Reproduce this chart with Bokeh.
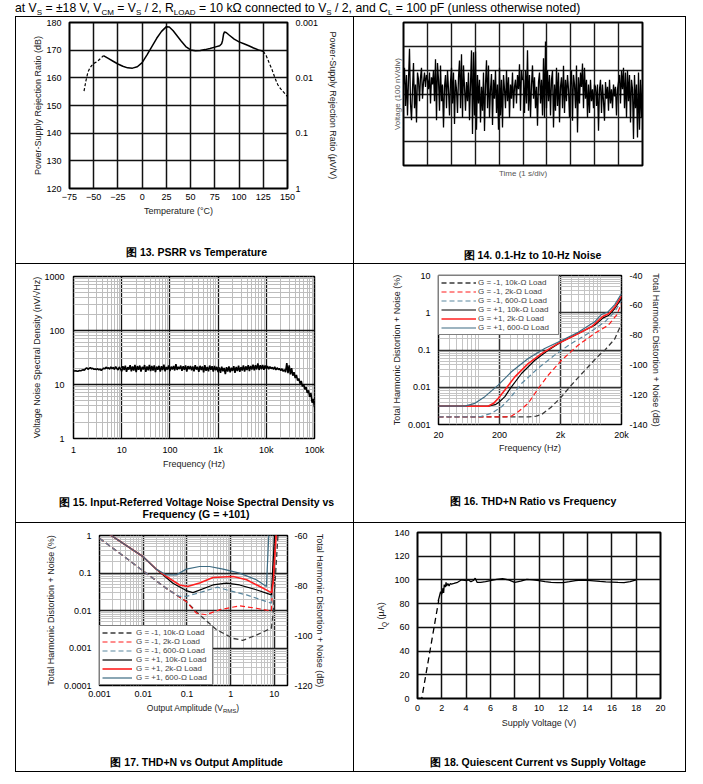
import numpy as np
from bokeh.plotting import figure
from bokeh.models import (Range1d, LinearAxis, FixedTicker, Legend, LegendItem, Div, LinearScale)
from bokeh.layouts import column, row
from bokeh.embed import file_html
from bokeh.resources import INLINE

FONT = "Liberation Sans"

# ---------------- data ----------------
# Fig 13 PSRR vs temperature
psrr_xticks = [-75, -50, -25, 0, 25, 50, 75, 100, 125, 150]
psrr_yticks = [120, 130, 140, 150, 160, 170, 180]
psrr_right_ticks = [120, 140, 160, 180]
psrr_right_labels = ["1", "0.1", "0.01", "0.001"]
psrr_dash_l_t = [-60, -58, -56, -54, -52, -49, -46, -43, -40]
psrr_dash_l_db = [155.2, 159, 162, 163.5, 164.5, 165.4, 166, 167, 168]
psrr_t = [-40, -35, -30, -25, -20, -15, -10, -5, 0, 5, 10, 15, 20, 25, 28, 32, 36, 40, 45, 50,
          55, 60, 65, 70, 75, 80, 82, 83, 84, 85, 87, 90, 95, 100, 105, 110, 115, 120, 125]
psrr_db = [168, 167, 166, 165, 164.2, 163.6, 163.5, 164, 165.5, 168.3, 171.3, 174.3, 176.8, 178.5, 178.4,
           177, 175.2, 173.4, 171.3, 170.1, 169.8, 169.9, 170.2, 170.6, 171.1, 171.6, 172.3, 173.5,
           175.8, 176.6, 176.3, 175.4, 174, 173, 172.3, 171.6, 170.8, 170.1, 169.6]
psrr_dash_r_t = [125, 128, 131, 134, 137, 140, 143, 146, 150]
psrr_dash_r_db = [169.6, 168, 165.5, 163, 160, 157.5, 156, 154.8, 153.2]

# Fig 14 0.1-Hz to 10-Hz noise (nV), 24 samples per second
noise_nv = [
    40, 110, -50, 80, -90, 60, 190, -40, -110, 20, 130, -60, 40, -120, 90, 60, -30, 70, 110, -20, 50, 90, 30, 80,
    60, 20, 90, -40, 70, 40, 100, -30, 146, -110, 130, 60, -70, 120, -30, 40, -140, 30, 80, -60, 100, 20, -90, 50,
    110, -40, 90, -126, 60, 20, -80, 70, 140, -60, 167, -100, 120, 30, -70, 50, -30, 90, -110, 40, 183, -168, 175, -90,
    178, -150, 80, -40, 60, -120, 30, -70, 90, -155, 40, 142, -60, 120, -100, 20, 84, -130, 60, -20, 100, -80, 40, -150,
    110, -90, 60, -140, 80, 20, -60, 100, -30, 70, -100, 40, -20, 90, -60, 30, 60, -40, 80, 20, 125, -70, 100, 60,
    60, -80, 100, -40, 184, -70, 80, -98, 40, 120, -20, 70, -60, 30, -133, 50, 90, -40, 60, -90, 150, -100, 220, -60,
    100, -30, 80, -90, 60, 97, -140, 40, -70, 110, -50, 90, -119, 30, 70, -60, 118, -80, 60, -30, 80, 20, -100, 50,
    100, -112, 80, 40, -60, 120, -161, 70, -40, 90, 30, 128, -60, 110, -20, 60, -100, 40, -80, 60, -30, 20, -60, 40,
    30, -50, 40, -154, 20, 60, -80, 40, -30, -112, 50, -20, 30, -70, 60, -40, 20, -60, 40, -10, 30, -90, 20, 50,
    80, -40, 97, 20, 110, -60, 90, -100, 100, -30, 80, -120, 60, 20, -189, 80, -60, 40, -182, 90, -150, 60, -100, 40,
]
noise_seconds = 10

# Fig 15 noise spectral density (nV/rtHz), 40 points per decade from 1 Hz to 100 kHz
nsd_values = [
    18.0, 17.8, 17.9, 17.6, 17.7, 18.2, 17.9, 18.4, 18.8, 18.3, 19.6, 20.4, 19.2, 19.8, 20.6, 19.5, 19.9, 19.1, 19.4, 18.9,
    19.6, 18.7, 19.3, 18.2, 19.0, 20.1, 19.4, 21.0, 19.8, 20.5, 19.2, 21.2, 19.6, 20.8, 18.9, 21.5, 19.7, 18.6, 21.1, 19.4,
    17.5, 21.8, 18.6, 22.3, 17.2, 21.0, 18.9, 22.8, 17.6, 21.5, 18.2, 23.0, 17.0, 21.9, 18.8, 22.4, 17.4, 21.2, 19.0, 22.9,
    17.1, 21.6, 18.4, 23.1, 17.8, 22.0, 18.1, 22.6, 16.9, 21.4, 18.7, 22.2, 17.3, 21.8, 18.5, 23.3, 17.6, 21.1, 18.9, 22.5,
    17.8, 21.4, 19.0, 22.1, 18.2, 23.8, 18.6, 21.2, 19.3, 22.4, 17.9, 21.7, 18.8, 22.6, 17.4, 21.9, 19.1, 22.0, 18.3, 21.5,
    17.6, 22.8, 18.9, 21.3, 17.2, 22.2, 18.6, 21.6, 16.8, 22.9, 18.0, 21.1, 17.5, 22.4, 18.7, 21.8, 17.3, 22.0, 18.4, 21.2,
    17.0, 20.8, 16.4, 21.4, 17.6, 20.2, 15.6, 20.9, 17.3, 21.6, 16.8, 20.5, 17.9, 21.9, 16.5, 21.2, 17.7, 22.3, 17.1, 21.0,
    18.2, 22.6, 17.4, 21.7, 18.5, 22.9, 17.8, 22.1, 18.9, 23.4, 18.3, 22.7, 19.0, 24.6, 18.6, 22.8, 19.2, 23.1, 18.8, 22.4,
    19.5, 22.0, 19.2, 21.4, 19.6, 20.8, 19.0, 21.2, 18.6, 20.4, 18.9, 19.8, 18.1, 19.6, 17.5, 18.9, 17.0, 24.8, 16.2, 22.5,
    15.4, 20.0, 14.6, 16.9, 13.2, 15.0, 11.8, 12.9, 10.4, 11.6, 9.2, 10.1, 8.1, 8.9, 7.0, 7.8, 5.9, 6.9, 4.6, 5.4, 3.8,
]
nsd_xticks = [1, 10, 100, 1000, 10000, 100000]
nsd_xlabels = ["1", "10", "100", "1k", "10k", "100k"]
nsd_yticks = [1, 10, 100, 1000]

# Fig 16 THD+N vs frequency (%)
thdf_names = ["G = -1, 10k-\u03a9 Load", "G = -1, 2k-\u03a9 Load", "G = -1, 600-\u03a9 Load",
              "G = +1, 10k-\u03a9 Load", "G = +1, 2k-\u03a9 Load", "G = +1, 600-\u03a9 Load"]
thdf_f_m1_10k = [20, 600, 800, 1000, 1400, 2000, 3000, 4000, 5650, 8000, 10670, 15550, 20000]
thdf_m1_10k = [0.0016, 0.0016, 0.00168, 0.0019, 0.0029, 0.0052, 0.0113, 0.019, 0.035, 0.065, 0.099, 0.2, 0.51]
thdf_f_m1_2k = [20, 250, 314, 405, 590, 861, 1256, 2078, 3900, 7270, 12080, 16600, 20000]
thdf_m1_2k = [0.0016, 0.0016, 0.00168, 0.0022, 0.0037, 0.0092, 0.021, 0.053, 0.135, 0.28, 0.46, 0.86, 1.77]
thdf_f_m1_600 = [20, 80, 101, 148, 216, 295, 459, 861, 1620, 3010, 5650, 10670, 15550, 20000]
thdf_m1_600 = [0.0016, 0.0016, 0.00165, 0.002, 0.003, 0.005, 0.0126, 0.0325, 0.074, 0.15, 0.277, 0.57, 1.06, 2.18]
thdf_f_p1_10k = [20, 130, 170, 202, 245, 314, 459, 759, 1256, 2078, 3900, 7270, 10040, 12460, 15530, 20000]
thdf_p1_10k = [0.0031, 0.0031, 0.0034, 0.0041, 0.0056, 0.0103, 0.0234, 0.053, 0.099, 0.166, 0.277, 0.46, 0.73, 0.86, 1.3, 2.4]
thdf_f_p1_2k = [20, 130, 160, 190, 245, 357, 590, 977, 1830, 3440, 6420, 10040, 12460, 15530, 20000]
thdf_p1_2k = [0.0031, 0.0031, 0.0037, 0.005, 0.0084, 0.019, 0.043, 0.08, 0.15, 0.25, 0.42, 0.81, 0.95, 1.43, 2.85]
thdf_f_p1_600 = [20, 54, 79, 115, 190, 314, 590, 1100, 2078, 3900, 7270, 9380, 12000, 15530, 20000]
thdf_p1_600 = [0.0031, 0.0031, 0.0037, 0.0056, 0.0114, 0.026, 0.059, 0.11, 0.18, 0.3, 0.57, 0.9, 1.05, 1.66, 3.3]
thdf_xticks = [20, 200, 2000, 20000]
thdf_xlabels = ["20", "200", "2k", "20k"]
thd_yticks = [0.001, 0.01, 0.1, 1, 10]
thd_ylabels = ["0.001", "0.01", "0.1", "1", "10"]
thdf_db_ticks = [-140, -120, -100, -80, -60, -40]

# Fig 17 THD+N vs output amplitude (%)
thda_a_m1_10k = [0.001, 0.0058, 0.0337, 0.0965, 0.195, 0.47, 1.14, 1.9, 3.86, 8.55, 9.4, 12.2]
thda_m1_10k = [0.85, 0.183, 0.039, 0.0174, 0.0077, 0.0031, 0.0018, 0.0016, 0.0022, 0.0034, 0.0085, 1.2]
thda_a_m1_2k = [0.001, 0.0058, 0.0337, 0.0965, 0.164, 0.277, 0.56, 1.6, 3.86, 8.55, 9.4, 11.1]
thda_m1_2k = [0.85, 0.183, 0.039, 0.0174, 0.0085, 0.0077, 0.0105, 0.0133, 0.0115, 0.0097, 0.149, 1.2]
thda_a_m1_600 = [0.001, 0.0058, 0.0337, 0.057, 0.068, 0.0965, 0.195, 0.5, 0.8, 2.32, 6.6, 8.55, 10.2]
thda_m1_600 = [0.85, 0.183, 0.039, 0.026, 0.0237, 0.0237, 0.030, 0.042, 0.0357, 0.026, 0.0173, 0.0157, 1.2]
thda_a_p1_10k = [0.00155, 0.0098, 0.0198, 0.0477, 0.0965, 0.137, 0.395, 0.8, 1.6, 3.86, 8.55, 10.2]
thda_p1_10k = [1.15, 0.275, 0.127, 0.0534, 0.034, 0.030, 0.048, 0.054, 0.048, 0.0357, 0.0262, 1.2]
thda_a_p1_2k = [0.00155, 0.0098, 0.0198, 0.0337, 0.068, 0.103, 0.195, 0.395, 1.14, 2.32, 4.66, 8.55, 9.4, 11.1]
thda_p1_2k = [1.15, 0.275, 0.127, 0.081, 0.048, 0.0435, 0.054, 0.076, 0.081, 0.066, 0.0436, 0.030, 0.054, 1.2]
thda_a_p1_600 = [0.00155, 0.0098, 0.0198, 0.0337, 0.057, 0.0965, 0.195, 0.33, 0.67, 1.6, 3.86, 6.6, 7.5]
thda_p1_600 = [1.15, 0.275, 0.127, 0.089, 0.089, 0.127, 0.149, 0.149, 0.127, 0.099, 0.066, 0.0436, 1.2]
thda_xticks = [0.001, 0.01, 0.1, 1, 10]
thda_xlabels = ["0.001", "0.01", "0.1", "1", "10"]
thda_yticks = [0.0001, 0.001, 0.01, 0.1, 1]
thda_ylabels = ["0.0001", "0.001", "0.01", "0.1", "1"]
thda_db_ticks = [-120, -100, -80, -60]

# Fig 18 quiescent current vs supply voltage
iq_dash_v = [0, 0.35, 1.75]
iq_dash_ua = [0, 0, 83]
iq_v = [1.7, 1.8, 1.9, 2.0, 2.1, 2.15, 2.2, 2.3, 2.35, 2.4, 2.5, 2.6, 2.7, 2.8, 3.0, 3.3, 3.6, 4.0, 4.2, 4.4,
        4.6, 4.75, 4.9, 5.2, 5.6, 6.0, 6.5, 7.0, 7.5, 8.0, 8.5, 9.0, 9.5, 10, 10.5, 11, 11.5, 12, 12.5, 13,
        13.5, 14, 14.5, 15, 15.5, 16, 16.5, 17, 17.5, 18]
iq_ua = [82, 86, 90, 88, 93, 89, 96, 94, 98, 95, 97, 95, 97, 96.5, 97, 98, 100, 99.5, 100, 98.5,
         99.5, 101.5, 98, 98, 98.5, 99.5, 100.5, 101, 100, 98, 99, 100.5, 100, 99.5, 98.5, 98, 97.8, 97.8, 98.5, 99.5,
         99.8, 99.6, 99.2, 98.7, 98.3, 98.1, 97.9, 97.8, 98.5, 100]
iq_xticks = [0, 2, 4, 6, 8, 10, 12, 14, 16, 18, 20]
iq_yticks = [0, 20, 40, 60, 80, 100, 120, 140]

captions = ["\u56fe 13. PSRR vs Temperature", "\u56fe 14. 0.1-Hz to 10-Hz Noise",
            "\u56fe 15. Input-Referred Voltage Noise Spectral Density vs", "Frequency (G = +101)",
            "\u56fe 16. THD+N Ratio vs Frequency", "\u56fe 17. THD+N vs Output Amplitude",
            "\u56fe 18. Quiescent Current vs Supply Voltage"]

series_colors = ["#3a3a3a", "#ff1a1a", "#5b88a0", "#000000", "#ff2020", "#3d6b82"]
series_dash = ["5 3", "5 3", "5 3", "solid", "solid", "solid"]
series_width = [1.3, 1.2, 1.2, 1.2, 1.6, 1.2]


# ---------------- helpers ----------------
def style_axis(ax, tick_size="9px", label_size="9px", label_color="#222222",
               tick_standoff=7, label_standoff=3):
    ax.axis_line_color = None
    ax.major_tick_line_color = None
    ax.minor_tick_line_color = None
    ax.major_tick_out = 0
    ax.major_tick_in = 0
    ax.minor_tick_out = 0
    ax.minor_tick_in = 0
    ax.major_label_text_font = FONT
    ax.major_label_text_font_size = tick_size
    ax.major_label_text_color = "black"
    ax.major_label_standoff = tick_standoff
    ax.axis_label_text_font = FONT
    ax.axis_label_text_font_size = label_size
    ax.axis_label_text_font_style = "normal"
    ax.axis_label_text_color = label_color
    ax.axis_label_standoff = label_standoff


def make_fig(w, h, l, r, t, b, xr, yr, xt="linear", yt="linear"):
    p = figure(width=w, height=h, x_range=xr, y_range=yr, x_axis_type=xt, y_axis_type=yt,
               min_border_left=l, min_border_right=r, min_border_top=t, min_border_bottom=b,
               output_backend="svg", toolbar_location=None, tools="")
    p.outline_line_color = "black"
    p.outline_line_width = 1.5
    p.border_fill_color = "white"
    p.background_fill_color = "white"
    return p


def set_ticks(p, dim, ticks, minor=None, labels=None):
    tk = FixedTicker(ticks=ticks, minor_ticks=minor or [])
    ax = p.xaxis[0] if dim == "x" else p.yaxis[0]
    gr = p.xgrid[0] if dim == "x" else p.ygrid[0]
    ax.ticker = tk
    gr.ticker = tk
    if labels is not None:
        ax.major_label_overrides = {k: v for k, v in zip(ticks, labels)}


def log_minors(lo, hi):
    out = []
    e = int(np.floor(np.log10(lo))) - 1
    while 10 ** e <= hi:
        for m in range(2, 10):
            v = m * 10.0 ** e
            if lo < v < hi:
                out.append(v)
        e += 1
    return out


def grid_style(p, color="black", width=1.5, minor=None):
    for g in (p.xgrid[0], p.ygrid[0]):
        g.grid_line_color = color
        g.grid_line_width = width
        g.grid_line_alpha = 1
        if minor:
            g.minor_grid_line_color = minor
            g.minor_grid_line_width = 1


def text_div(w, h, pieces):
    """pieces: list of (x_center, y_center, html, css) inside a w x h white box."""
    inner = "".join(
        '<div style="position:absolute; left:%.1fpx; top:%.1fpx; transform:translate(-50%%,-50%%); '
        'white-space:nowrap; font-family:\'Liberation Sans\', Arial, sans-serif; line-height:1; %s">%s</div>'
        % (x, y, css, html) for x, y, html, css in pieces)
    html = ('<div style="position:relative; width:%dpx; height:%dpx; background:white; overflow:visible;">%s</div>'
            % (w, h, inner))
    return Div(text=html, width=w, height=h, margin=0, styles={"background-color": "white"})


def make_legend(items, loc, glyph_w, label_w, standoff):
    return Legend(items=items, location=loc, margin=0, padding=2, spacing=0,
                  glyph_width=glyph_w, glyph_height=7, label_height=7, label_width=label_w,
                  label_standoff=standoff, label_text_font=FONT, label_text_font_size="8px",
                  label_text_line_height=0.9, border_line_color="black", border_line_width=1,
                  background_fill_color="white", background_fill_alpha=1)


CAP = "font-weight:bold; font-size:10.5px; color:#000;"

# ---------------- Fig 13 ----------------
p1 = make_fig(337, 215, 53, 66, 5, 44, Range1d(-75, 150), Range1d(120, 180))
style_axis(p1.xaxis[0], tick_standoff=5, label_standoff=3)
style_axis(p1.yaxis[0], tick_standoff=8, label_standoff=0)
set_ticks(p1, "x", psrr_xticks, labels=[str(v).replace("-", "\u2212") for v in psrr_xticks])
set_ticks(p1, "y", psrr_yticks)
grid_style(p1, "#111111", 1.5)
p1.outline_line_width = 2
p1.xaxis[0].axis_label = "Temperature (\u00b0C)"
p1.yaxis[0].axis_label = "Power-Supply Rejection Ratio (dB)"
ax_r = LinearAxis(ticker=FixedTicker(ticks=psrr_right_ticks),
                  major_label_overrides={k: v for k, v in zip(psrr_right_ticks, psrr_right_labels)},
                  axis_label="Power-Supply Rejection Ratio (\u00b5V/V)")
style_axis(ax_r, tick_standoff=8, label_standoff=7)
p1.add_layout(ax_r, "right")
p1.line(psrr_dash_l_t, psrr_dash_l_db, line_color="black", line_width=1.2, line_dash="3 2")
p1.line(psrr_t, psrr_db, line_color="black", line_width=1.5)
p1.line(psrr_dash_r_t, psrr_dash_r_db, line_color="black", line_width=1.2, line_dash="3 2")
d1 = text_div(337, 31, [(180.5, 20, captions[0], CAP)])

# ---------------- Fig 14 ----------------
p2 = make_fig(331, 215, 49, 43, 5, 67, Range1d(0, 10), Range1d(-300, 300))
style_axis(p2.xaxis[0], tick_size="0px", label_size="8px", label_color="#555555", tick_standoff=0, label_standoff=3)
style_axis(p2.yaxis[0], tick_size="0px", label_size="8px", label_color="#555555", tick_standoff=0, label_standoff=2)
set_ticks(p2, "x", list(range(0, 11)))
set_ticks(p2, "y", list(range(-300, 301, 100)))
p2.xaxis[0].major_label_overrides = {v: "" for v in range(0, 11)}
p2.yaxis[0].major_label_overrides = {v: "" for v in range(-300, 301, 100)}
grid_style(p2, "#1a1a1a", 1.4)
p2.outline_line_width = 2
p2.xaxis[0].axis_label = "Time (1 s/div)"
p2.yaxis[0].axis_label = "Voltage (100 nV/div)"
noise_t = np.linspace(0, noise_seconds, len(noise_nv))
p2.line(noise_t, noise_nv, line_color="black", line_width=1.3)
d2 = text_div(331, 31, [(178.5, 23, captions[1], CAP)])

# ---------------- Fig 15 ----------------
p3 = make_fig(337, 212, 57, 39, 12, 38, Range1d(1, 1e5), Range1d(1, 1000), "log", "log")
style_axis(p3.xaxis[0], tick_standoff=6, label_standoff=1)
style_axis(p3.yaxis[0], tick_standoff=9, label_standoff=-1)
set_ticks(p3, "x", nsd_xticks, log_minors(1, 1e5), nsd_xlabels)
set_ticks(p3, "y", nsd_yticks, log_minors(1, 1000), [str(v) for v in nsd_yticks])
grid_style(p3, "#111111", 1.3, "#bdbdbd")
p3.xaxis[0].axis_label = "Frequency (Hz)"
p3.yaxis[0].axis_label = "Voltage Noise Spectral Density (nV/\u221aHz)"
nsd_freq = np.logspace(0, 5, len(nsd_values))
p3.line(nsd_freq, nsd_values, line_color="black", line_width=1.6)
d3 = text_div(337, 46, [(180.5, 26, captions[2], CAP), (180.0, 38.3, captions[3], CAP)])

# ---------------- Fig 16 ----------------
p4 = make_fig(331, 212, 84, 64, 11, 52, Range1d(20, 20000), Range1d(0.001, 10), "log", "log")
style_axis(p4.xaxis[0], tick_standoff=5, label_standoff=0)
style_axis(p4.yaxis[0], tick_standoff=8, label_standoff=3)
set_ticks(p4, "x", thdf_xticks, log_minors(20, 20000), thdf_xlabels)
set_ticks(p4, "y", thd_yticks, log_minors(0.001, 10), thd_ylabels)
grid_style(p4, "#333333", 1.5, "#c4c4c4")
p4.xaxis[0].axis_label = "Frequency (Hz)"
p4.yaxis[0].axis_label = "Total Harmonic Distortion + Noise (%)"
p4.extra_y_ranges = {"db": Range1d(-140, -40)}
p4.extra_y_scales = {"db": LinearScale()}
ax_r4 = LinearAxis(y_range_name="db", ticker=FixedTicker(ticks=thdf_db_ticks),
                   major_label_overrides={v: str(v) for v in thdf_db_ticks},
                   axis_label="Total Harmonic Distortion + Noise (dB)")
style_axis(ax_r4, tick_standoff=8, label_standoff=0)
p4.add_layout(ax_r4, "right")
thdf_x = [thdf_f_m1_10k, thdf_f_m1_2k, thdf_f_m1_600, thdf_f_p1_10k, thdf_f_p1_2k, thdf_f_p1_600]
thdf_y = [thdf_m1_10k, thdf_m1_2k, thdf_m1_600, thdf_p1_10k, thdf_p1_2k, thdf_p1_600]
items4 = []
for i in range(6):
    r = p4.line(thdf_x[i], thdf_y[i], line_color=series_colors[i], line_width=series_width[i],
                line_dash=series_dash[i])
    items4.append(LegendItem(label=thdf_names[i], renderers=[r]))
p4.add_layout(make_legend(items4, "top_left", 35, 78, 2))
d4 = text_div(331, 46, [(179, 25.3, captions[4], CAP)])

# ---------------- Fig 17 ----------------
p5 = make_fig(337, 180, 83, 66, 12, 18, Range1d(0.001, 20), Range1d(0.0001, 1), "log", "log")
style_axis(p5.xaxis[0], tick_standoff=5, label_standoff=3)
style_axis(p5.yaxis[0], tick_standoff=8, label_standoff=5)
set_ticks(p5, "x", thda_xticks, log_minors(0.001, 20), thda_xlabels)
set_ticks(p5, "y", thda_yticks, log_minors(0.0001, 1), thda_ylabels)
grid_style(p5, "#222222", 1.5, "#c4c4c4")
p5.yaxis[0].axis_label = "Total Harmonic Distortion + Noise (%)"
p5.extra_y_ranges = {"db": Range1d(-120, -60)}
p5.extra_y_scales = {"db": LinearScale()}
ax_r5 = LinearAxis(y_range_name="db", ticker=FixedTicker(ticks=thda_db_ticks),
                   major_label_overrides={v: str(v) for v in thda_db_ticks},
                   axis_label="Total Harmonic Distortion + Noise (dB)")
style_axis(ax_r5, tick_standoff=7, label_standoff=-1)
p5.add_layout(ax_r5, "right")
thda_x = [thda_a_m1_10k, thda_a_m1_2k, thda_a_m1_600, thda_a_p1_10k, thda_a_p1_2k, thda_a_p1_600]
thda_y = [thda_m1_10k, thda_m1_2k, thda_m1_600, thda_p1_10k, thda_p1_2k, thda_p1_600]
items5 = []
for i in range(6):
    r = p5.line(thda_x[i], thda_y[i], line_color=series_colors[i], line_width=series_width[i],
                line_dash=series_dash[i])
    items5.append(LegendItem(label=thdf_names[i], renderers=[r]))
p5.add_layout(make_legend(items5, "bottom_left", 30, 74, 4))
d5 = text_div(337, 68, [
    (177, 6.3, 'Output Amplitude (V<sub style="font-size:6px">RMS</sub>)', "font-size:8.5px; color:#222;"),
    (180.7, 58.7, captions[5], CAP)])

# ---------------- Fig 18 ----------------
p6 = make_fig(296, 212, 28, 25, 9, 37, Range1d(0, 20), Range1d(0, 140))
style_axis(p6.xaxis[0], tick_standoff=6, label_standoff=4)
style_axis(p6.yaxis[0], tick_standoff=8, label_standoff=3)
set_ticks(p6, "x", iq_xticks)
set_ticks(p6, "y", iq_yticks)
grid_style(p6, "#111111", 1.5)
p6.outline_line_width = 2
p6.xaxis[0].axis_label = "Supply Voltage (V)"
p6.line(iq_dash_v, iq_dash_ua, line_color="black", line_width=1.3, line_dash="6 4")
p6.line(iq_v, iq_ua, line_color="black", line_width=1.3)
y6 = text_div(35, 212, [(29, 92.5, 'I<sub style="font-size:6.5px">Q</sub> (\u00b5A)',
                         "font-size:9px; color:#222; transform:translate(-50%,-50%) rotate(-90deg);")])
d6 = text_div(331, 36, [(184, 27.3, captions[6], CAP)])

# ---------------- layout ----------------
header_html = (
    '<div style="position:relative; top:0px; white-space:nowrap; '
    'font-family:\'Liberation Sans\', Arial, sans-serif; font-size:12.2px; color:#000; line-height:12px;">'
    'at V<sub style="font-size:8px">S</sub> = \u00b118 V, V<sub style="font-size:8px">CM</sub> = '
    'V<sub style="font-size:8px">S</sub> / 2, R<sub style="font-size:8px">LOAD</sub> = 10 k\u03a9 connected to '
    'V<sub style="font-size:8px">S</sub> / 2, and C<sub style="font-size:8px">L</sub> = 100 pF '
    '(unless otherwise noted)</div>'
)
header = Div(text=header_html, width=671, height=16, margin=0)

W = {"background-color": "white"}
c1 = column(p1, d1, spacing=0, styles=W)
c2 = column(p2, d2, spacing=0, styles=W)
c3 = column(p3, d3, spacing=0, styles=W)
c4 = column(p4, d4, spacing=0, styles=W)
c5 = column(p5, d5, spacing=0, styles=W)
c6 = column(row(y6, p6, spacing=0, styles=W), d6, spacing=0, styles=W)

r1 = row(c1, c2, spacing=1)
r2 = row(c3, c4, spacing=1)
r3 = row(c5, c6, spacing=1)
grid = column(r1, r2, r3, spacing=1, styles={"background-color": "black", "padding": "1px"})
page = column(header, grid, spacing=0, styles={"padding-left": "15px"})

open("out.html", "w").write(file_html(page, INLINE))
